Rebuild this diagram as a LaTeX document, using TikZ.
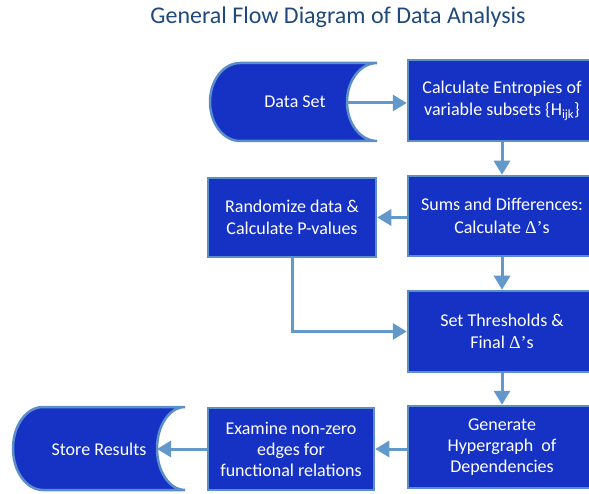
\documentclass[tikz,border=0pt]{standalone}
\usepackage{fontspec}
\setmainfont{Carlito}
\newfontfamily\symf{Liberation Serif}
\usetikzlibrary{arrows.meta,calc}
\definecolor{boxblue}{RGB}{22,50,196}
\definecolor{edgeblue}{RGB}{92,142,200}
\definecolor{arrowblue}{RGB}{98,152,202}
\definecolor{titleblue}{RGB}{31,73,125}
\newcommand{\Dlts}{{\symf Δ’}s}
\begin{document}
\begin{tikzpicture}[x=1pt,y=1pt,
  procbox/.style={draw=edgeblue, line width=2.5pt, fill=boxblue, text=white,
    font=\fontsize{18}{22.5}\selectfont, align=center, inner sep=0pt},
  threeline/.style={font=\fontsize{18}{21}\selectfont},
  storeshape/.style={draw=edgeblue, line width=2.5pt, fill=boxblue},
  shapetext/.style={text=white, font=\fontsize{18}{22}\selectfont, inner sep=0pt},
  titletext/.style={text=titleblue, font=\fontsize{24}{28}\selectfont, inner sep=0pt},
  flowarrow/.style={draw=arrowblue, line width=3pt, -{Triangle[length=14pt,width=16pt]}},
  flowline/.style={draw=arrowblue, line width=3pt}
]
\useasboundingbox (0,0) rectangle (589,493);

\node[titletext] (title) at (338,476) {General Flow Diagram of Data Analysis};

% stored-data shapes
\path[storeshape] (377,430) -- (240,430)
  arc[start angle=90,end angle=270,x radius=30,y radius=39] -- (377,352)
  arc[start angle=270,end angle=90,x radius=30,y radius=39] -- cycle;
\node[shapetext] (ds) at (295,391) {Data Set};
\coordinate (dsR) at (347,390);

\path[storeshape] (185,86) -- (43,86)
  arc[start angle=90,end angle=270,x radius=30,y radius=41.5] -- (185,3)
  arc[start angle=270,end angle=90,x radius=28,y radius=41.5] -- cycle;
\node[shapetext] (sr) at (99,44) {Store Results};
\coordinate (srR) at (157,44);

% process boxes
\node[procbox, minimum width=188pt, minimum height=81pt] (ent) at (502,392.5)
  {Calculate Entropies of\\variable subsets \{H\textsubscript{ijk}\}};
\node[procbox, minimum width=188pt, minimum height=80pt] (sums) at (502,277)
  {Sums and Differences:\\Calculate \Dlts};
\node[procbox, minimum width=188pt, minimum height=81pt] (thr) at (502,161.5)
  {Set Thresholds \&\\Final \Dlts};
\node[procbox, threeline, minimum width=188pt, minimum height=82pt] (gen) at (502,46)
  {Generate\\Hypergraph~ of\\Dependencies};
\node[procbox, minimum width=168pt, minimum height=79pt] (rand) at (292,275.5)
  {Randomize data \&\\Calculate P-values};
\node[procbox, threeline, minimum width=166pt, minimum height=82pt] (exam) at (291,44)
  {Examine non-zero\\edges for\\functional relations};

% connectors
\draw[flowarrow] (dsR) -- (ent.west |- dsR);
\draw[flowarrow] (ent.south) -- (sums.north);
\draw[flowarrow] (sums.west |- rand.east) -- (rand.east);
\draw[flowarrow] (sums.south) -- (thr.north);
\draw[flowarrow] (rand.south) |- (thr.west);
\draw[flowarrow] (thr.south) -- (gen.north);
\draw[flowarrow] (gen.west |- exam.east) -- (exam.east);
\draw[flowarrow] (exam.west) -- (srR);
\end{tikzpicture}
\end{document}
